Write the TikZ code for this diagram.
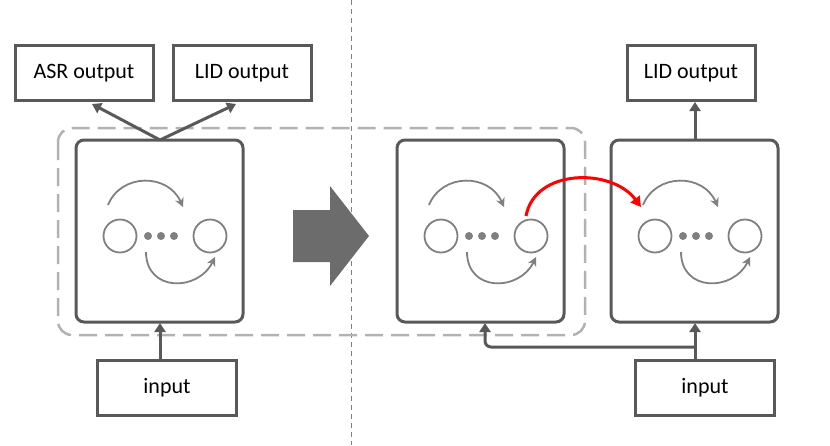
\documentclass[tikz,border=0pt]{standalone}
\usepackage{fontspec}
\setmainfont{Carlito}
\usetikzlibrary{arrows.meta}
\begin{document}
\begin{tikzpicture}[x=1pt,y=-1pt,
  lbl/.style={draw=dg,line width=3pt,minimum width=136pt,minimum height=55pt,font=\fontsize{22}{26}\selectfont,inner sep=0pt},
  bigbox/.style={draw=dg,line width=3pt,rounded corners=8pt},
  conn/.style={draw=dg,line width=3pt,-{Triangle[length=9pt,width=11pt]}},
  inner/.style={draw=lg,line width=1.8pt},
  inarr/.style={draw=lg,line width=1.8pt,-{Stealth[length=9pt,width=9pt]}}]
\definecolor{dg}{HTML}{595959}
\definecolor{lg}{HTML}{808080}
\useasboundingbox (0,0) rectangle (830,445);
\draw[gray,line width=0.8pt,dash pattern=on 5pt off 4pt] (351,0) -- (351,445);
\draw[draw=black!30,line width=2.5pt,dash pattern=on 18pt off 8pt,rounded corners=14pt] (58,128) rectangle (585,335);
\node[lbl,minimum width=138pt] (asr) at (84,73) {ASR output};
\node[lbl,minimum width=138pt] (lid1) at (242,73) {LID output};
\node[lbl,minimum width=128pt] (lid2) at (691,73) {LID output};
\node[lbl,minimum width=139pt] (in1) at (167,388) {input};
\node[lbl,minimum width=139pt] (in2) at (705,388) {input};
\foreach \n/\x in {b1/76,b2/397,b3/611}{
  \draw[bigbox] (\x,140) rectangle (\x+167,322);
  \coordinate (\n) at (\x,0);
  \begin{scope}[shift={(\x,0)}]
    \draw[inner] (44,236) circle (16.5);
    \draw[inner] (134,236) circle (16.5);
    \foreach \d in {72,85,98} \fill[lg] (\d,236) circle (4);
    \draw[inarr] (32,205) .. controls (45,173) and (92,173) .. (107,207);
    \draw[inarr] (70,252) .. controls (70,292) and (122,292) .. (139,257);
  \end{scope}
}
\coordinate (t1) at (160,140);
\draw[conn] (t1) -- (92,104);
\draw[conn] (t1) -- (236,104);
\draw[conn] (160,360) -- (160,323);
\draw[conn] (695,140) -- (695,102);
\draw[conn] (695,360) -- (695,323);
\draw[conn,rounded corners=6pt] (695,347) -- (485,347) -- (485,323);
\fill[gray!85!black] (293,210) -- (330,210) -- (330,186) -- (369,236) -- (330,286) -- (330,262) -- (293,262) -- cycle;
\draw[red,line width=3pt,-{Triangle[length=10pt,width=11pt]}] (526,216) .. controls (535,168) and (612,168) .. (641,207);
\end{tikzpicture}
\end{document}
